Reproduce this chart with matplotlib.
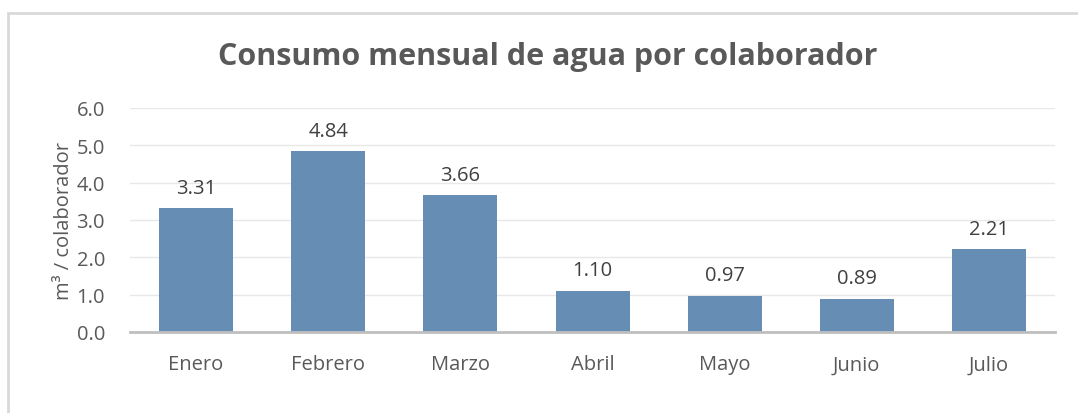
import matplotlib.pyplot as plt
from matplotlib.patches import Rectangle

meses = ["Enero", "Febrero", "Marzo", "Abril", "Mayo", "Junio", "Julio"]
consumo = [3.31, 4.84, 3.66, 1.10, 0.97, 0.89, 2.21]
yticks = [0.0, 1.0, 2.0, 3.0, 4.0, 5.0, 6.0]

plt.rcParams["font.family"] = ["Open Sans", "DejaVu Sans"]

fig = plt.figure(figsize=(10.78, 4.14), dpi=100)
ax = fig.add_axes([130 / 1078, 1 - 333 / 414, 925 / 1078, 224 / 414])

# marco del grafico
fig.patches.append(Rectangle((8 / 1078, -0.1), 1.2, (414 - 14) / 414 + 0.1,
                             transform=fig.transFigure, fill=False,
                             edgecolor="#d9d9d9", linewidth=2))

x = range(len(meses))
ax.bar(x, consumo, width=0.56, color="#668db4", zorder=3)
for i, v in zip(x, consumo):
    ax.text(i, v + 0.28, f"{v:.2f}", ha="center", va="bottom",
            fontsize=14.5, color="#404040")

ax.set_xlim(-0.5, len(meses) - 0.5)
ax.set_ylim(0, 6.0)
ax.set_yticks(yticks)
ax.set_yticklabels([f"{t:.1f}" for t in yticks])
ax.set_xticks(list(x))
ax.set_xticklabels(meses)
ax.tick_params(axis="both", length=0, labelsize=14.5, labelcolor="#595959")
ax.tick_params(axis="x", pad=16)
ax.tick_params(axis="y", pad=18)
ax.grid(axis="y", color="#e8e8e8", linewidth=1, zorder=0)
for s in ["top", "right", "left"]:
    ax.spines[s].set_visible(False)
ax.spines["bottom"].set_color("#bfbfbf")
ax.spines["bottom"].set_linewidth(2)
ax.spines["bottom"].set_zorder(4)

ax.set_ylabel("m³ / colaborador", fontsize=14.5, color="#595959", labelpad=2)
fig.text(548 / 1078, 1 - 57 / 414, "Consumo mensual de agua por colaborador",
         ha="center", va="center", fontsize=22, fontweight="bold", color="#595959")

fig.savefig("out.png", dpi=100)
